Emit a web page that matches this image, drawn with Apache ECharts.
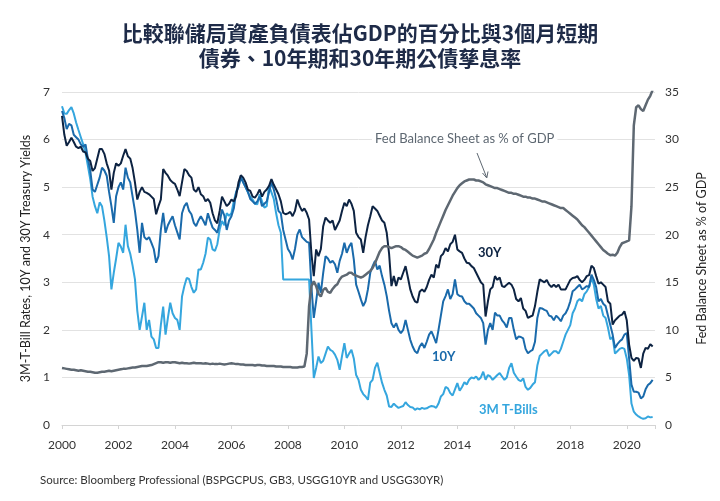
<!DOCTYPE html>
<html><head><meta charset="utf-8">
<script src="https://cdn.jsdelivr.net/npm/echarts@6/dist/echarts.min.js"></script>
<style>html,body{margin:0;padding:0;background:#fff}#c{width:720px;height:501px}</style>
</head><body><div id="c"></div>
<script>
// Monthly observations, Jan 2000 .. Dec 2020 (decimal year positions)
const months = Array.from({length: 252}, (_, i) => 2000 + i / 12);

const xTickLabels = ['2000','2002','2004','2006','2008','2010','2012','2014','2016','2018','2020'];

const titleLines = ['比較聯儲局資產負債表佔GDP的百分比與3個月短期', '債券、10年期和30年期公債孳息率'];

// "3M T-Bills" (left axis, %)
const bills3m = [
6.70,6.55,6.54,6.62,6.68,6.55,6.36,6.20,6.05,5.90,5.72,5.45,
5.17,4.80,4.60,4.45,4.68,4.60,4.30,3.95,3.55,2.85,3.20,3.50,
3.83,3.75,3.62,4.21,3.76,3.60,3.35,3.06,2.40,2.00,2.28,2.57,
2.00,2.21,1.86,1.80,1.62,1.62,2.10,2.49,1.90,2.25,2.57,2.35,
2.25,2.21,2.00,2.70,2.92,3.09,3.07,2.90,2.78,2.85,3.27,3.27,
3.41,3.60,3.94,3.90,3.69,3.66,3.80,4.11,4.29,4.20,4.45,4.40,
4.45,4.70,4.90,5.03,5.24,5.10,5.00,4.89,4.80,4.74,4.65,4.64,
4.85,4.70,4.57,4.60,5.03,4.89,4.75,4.45,4.20,4.04,3.06,3.06,
3.06,3.06,3.06,3.06,3.06,3.06,3.06,3.06,3.06,3.06,2.00,0.99,
1.20,1.44,1.30,1.35,1.50,1.65,1.58,1.55,1.48,1.37,1.16,1.45,
1.72,1.41,1.50,1.58,1.40,1.05,0.95,0.74,0.65,0.60,0.53,0.89,
0.95,1.20,1.31,1.10,0.89,0.74,0.62,0.39,0.38,0.45,0.40,0.36,
0.38,0.40,0.48,0.42,0.38,0.37,0.32,0.35,0.33,0.36,0.34,0.35,
0.38,0.40,0.39,0.36,0.45,0.60,0.65,0.80,0.77,0.67,0.62,0.75,
0.88,0.72,0.80,0.90,0.85,0.95,1.00,0.98,1.02,0.95,1.00,1.12,
0.95,1.05,1.02,0.95,1.00,1.05,1.09,1.02,0.95,1.00,1.20,1.30,
1.10,1.02,0.95,0.92,0.98,0.80,0.74,0.78,0.85,0.90,1.25,1.45,
1.50,1.55,1.58,1.45,1.50,1.55,1.55,1.50,1.60,1.75,1.90,2.00,
2.10,2.35,2.45,2.60,2.65,2.60,2.75,2.81,2.90,3.09,2.95,2.65,
2.45,2.50,2.30,2.25,2.05,1.80,1.85,1.50,1.55,1.60,1.62,1.60,
1.40,1.05,0.45,0.28,0.22,0.18,0.15,0.13,0.14,0.18,0.16,0.17];

// 10Y Treasury yield (left axis, %)
const yield10y = [
6.60,6.45,6.22,6.33,6.30,6.10,6.05,6.00,5.90,5.85,5.90,5.60,
5.35,4.95,4.90,5.05,5.20,5.41,5.35,5.24,4.90,4.60,4.25,4.81,
5.00,5.10,4.95,5.41,5.20,5.10,4.80,4.50,4.10,3.62,4.25,3.95,
3.90,3.95,3.83,3.70,3.41,3.55,4.10,4.46,4.04,4.20,4.30,4.39,
4.20,4.05,3.90,4.45,4.60,4.67,4.50,4.43,4.25,4.18,4.30,4.39,
4.30,4.20,4.45,4.29,4.15,4.10,4.04,4.25,4.53,4.40,4.10,4.30,
4.39,4.55,4.89,5.00,5.20,5.10,5.00,4.90,4.75,4.70,4.65,4.70,
4.80,4.60,4.65,4.70,4.90,5.10,4.95,4.75,4.50,4.45,4.10,3.90,
3.70,3.62,3.48,3.70,4.00,4.11,3.95,3.90,3.85,3.83,2.90,2.25,
2.60,2.99,2.78,3.20,3.55,3.50,3.41,3.45,3.38,3.20,3.45,3.60,
3.83,3.62,3.75,3.83,3.48,2.95,2.80,2.64,2.50,2.60,2.85,3.20,
3.34,3.45,3.27,3.35,3.13,2.95,2.71,2.40,2.14,2.05,2.14,2.00,
1.93,2.00,2.21,2.00,1.79,1.65,1.55,1.51,1.65,1.72,1.62,1.75,
1.90,1.97,1.85,1.72,2.00,2.30,2.60,2.71,2.85,2.65,2.75,3.06,
2.75,2.71,2.70,2.60,2.55,2.55,2.50,2.45,2.35,2.30,2.25,2.14,
1.69,2.00,2.14,2.00,2.36,2.30,2.30,2.20,2.14,2.05,2.25,2.25,
2.00,1.80,1.86,1.85,1.82,1.60,1.51,1.55,1.58,1.75,2.25,2.46,
2.45,2.42,2.40,2.30,2.28,2.20,2.30,2.25,2.18,2.30,2.35,2.45,
2.60,2.81,2.85,2.90,2.95,2.85,2.88,2.92,2.90,3.16,3.05,2.90,
2.60,2.65,2.55,2.50,2.30,2.10,1.90,1.62,1.70,1.76,1.80,1.90,
1.93,1.40,0.85,0.70,0.70,0.68,0.56,0.60,0.75,0.84,0.88,0.95];

// 30Y Treasury yield (left axis, %)
const yield30y = [
6.50,6.10,5.87,5.95,6.04,5.95,5.85,5.82,5.85,5.75,5.73,5.60,
5.55,5.34,5.40,5.60,5.80,5.80,5.70,5.50,5.35,4.95,5.30,5.50,
5.45,5.50,5.66,5.80,5.65,5.60,5.40,5.10,4.74,4.90,5.00,4.90,
4.88,4.85,4.80,4.75,4.43,4.60,4.74,5.38,5.30,5.24,5.15,5.10,
5.07,4.95,4.81,5.10,5.38,5.34,5.25,5.20,4.95,4.90,5.00,4.85,
4.81,4.70,4.75,4.67,4.45,4.30,4.24,4.50,4.80,4.70,4.60,4.65,
4.74,4.70,4.81,5.10,5.25,5.20,5.10,4.95,4.92,4.80,4.78,4.85,
4.95,4.80,4.90,4.95,5.03,5.17,5.05,4.95,4.85,4.70,4.46,4.43,
4.45,4.48,4.39,4.50,4.74,4.60,4.50,4.55,4.46,4.32,3.60,3.13,
3.69,3.55,3.70,4.18,4.36,4.30,4.25,4.30,4.10,4.20,4.30,4.50,
4.67,4.60,4.74,4.65,4.50,4.04,3.95,3.90,3.62,3.95,4.20,4.39,
4.60,4.55,4.50,4.40,4.30,4.25,4.04,3.60,2.92,3.13,2.92,3.10,
3.06,3.20,3.34,3.10,2.85,2.70,2.60,2.57,2.80,2.85,2.80,2.90,
3.05,3.16,3.10,3.37,3.30,3.55,3.60,3.72,3.65,3.80,3.85,4.00,
3.69,3.65,3.62,3.50,3.41,3.40,3.34,3.30,3.20,3.10,3.00,2.95,
2.28,2.60,2.85,2.90,3.13,3.05,3.10,2.92,2.90,2.95,2.99,2.95,
2.85,2.65,2.60,2.67,2.45,2.40,2.25,2.28,2.30,2.50,2.80,3.06,
3.03,3.00,3.05,2.95,2.90,2.95,2.90,2.95,2.85,2.85,2.85,2.95,
3.05,3.09,3.10,3.13,3.05,3.00,3.05,3.13,3.15,3.35,3.30,3.13,
2.97,3.00,2.95,2.90,2.60,2.55,2.11,2.20,2.25,2.30,2.32,2.39,
2.20,1.69,1.41,1.35,1.41,1.40,1.20,1.50,1.62,1.60,1.70,1.65];

// Fed balance sheet as % of GDP (right axis)
const fedBalancePctGdp = [
6.00,5.95,5.90,5.85,5.80,5.80,5.75,5.70,5.75,5.70,5.65,5.60,
5.60,5.55,5.50,5.50,5.55,5.60,5.60,5.65,5.70,5.65,5.70,5.75,
5.80,5.85,5.90,5.90,5.95,6.00,6.05,6.05,6.10,6.15,6.20,6.20,
6.20,6.25,6.30,6.40,6.50,6.60,6.60,6.55,6.60,6.60,6.55,6.60,
6.60,6.55,6.50,6.55,6.50,6.50,6.45,6.50,6.55,6.50,6.50,6.50,
6.45,6.50,6.45,6.40,6.45,6.40,6.40,6.45,6.40,6.35,6.40,6.45,
6.50,6.45,6.40,6.40,6.35,6.35,6.30,6.30,6.30,6.30,6.25,6.30,
6.30,6.25,6.25,6.20,6.20,6.20,6.20,6.15,6.15,6.15,6.10,6.10,
6.10,6.10,6.05,6.05,6.05,6.10,6.10,6.15,7.50,12.50,14.60,15.10,
14.60,13.80,13.50,14.20,14.40,14.00,13.90,14.30,14.60,14.80,15.30,15.60,
15.70,15.80,16.00,16.00,15.80,15.70,15.60,15.50,15.60,15.80,16.00,16.20,
16.50,17.00,17.60,18.20,18.60,18.80,18.80,18.70,18.60,18.70,18.80,18.80,
18.70,18.50,18.40,18.20,18.00,17.80,17.70,17.60,17.70,17.80,18.00,18.10,
18.50,19.00,19.50,20.20,20.80,21.40,22.00,22.60,23.10,23.60,24.10,24.50,
24.90,25.20,25.40,25.60,25.70,25.80,25.80,25.80,25.70,25.70,25.60,25.50,
25.30,25.20,25.10,25.00,24.90,24.90,24.80,24.70,24.60,24.50,24.40,24.40,
24.30,24.30,24.20,24.10,24.00,24.00,23.90,23.90,23.80,23.80,23.70,23.60,
23.50,23.50,23.40,23.30,23.20,23.10,23.00,22.90,22.80,22.80,22.60,22.40,
22.20,22.00,21.80,21.60,21.30,21.00,20.80,20.50,20.20,19.90,19.60,19.30,
19.00,18.70,18.40,18.20,18.00,17.85,17.90,17.80,18.10,18.70,19.10,19.20,
19.30,19.40,23.00,31.50,33.40,33.60,33.20,33.00,33.60,34.20,34.60,35.20];

const pairs = arr => arr.map((v, i) => [months[i], v]);

const C30 = '#0d2342', C10 = '#1a6aab', C3 = '#35a6de', CFED = '#5e6872';
const FONT = 'Lato, "Noto Sans", sans-serif';
const TFONT = 'bold 21px "Noto Sans CJK TC", sans-serif';

const chart = echarts.init(document.getElementById('c'));
chart.setOption({
  animation: false,
  backgroundColor: '#fff',
  grid: {left: 62, right: 65, top: 92, bottom: 76},
  xAxis: {
    type: 'value', min: 2000, max: 2021, interval: 2,
    axisLine: {lineStyle: {color: '#d4d4d4'}},
    axisTick: {show: true, length: 4, lineStyle: {color: '#d4d4d4'}},
    splitLine: {show: false},
    axisLabel: {
      formatter: v => xTickLabels.indexOf(String(v)) >= 0 ? String(v) : '',
      color: '#333', fontSize: 12, margin: 14, fontFamily: FONT
    }
  },
  yAxis: [{
    type: 'value', min: 0, max: 7, interval: 1, position: 'left',
    name: '3M-T-Bill Rates, 10Y and 30Y Treasury Yields',
    nameLocation: 'middle', nameRotate: 90, nameGap: 30,
    nameTextStyle: {color: '#222', fontSize: 12.5, fontFamily: FONT},
    axisLine: {show: false}, axisTick: {show: false},
    splitLine: {lineStyle: {color: '#e2e2e2'}},
    axisLabel: {color: '#333', fontSize: 12, margin: 12, fontFamily: FONT}
  }, {
    type: 'value', min: 0, max: 35, interval: 5, position: 'right',
    name: 'Fed Balance Sheet as % of GDP',
    nameLocation: 'middle', nameRotate: 90, nameGap: 40,
    nameTextStyle: {color: '#222', fontSize: 12.5, fontFamily: FONT},
    axisLine: {show: false}, axisTick: {show: false},
    splitLine: {show: false},
    axisLabel: {color: '#333', fontSize: 12, margin: 10, fontFamily: FONT}
  }],
  series: [
    {name: '3M T-Bills', type: 'line', yAxisIndex: 0, data: pairs(bills3m), showSymbol: false, lineStyle: {color: C3, width: 2}, itemStyle: {color: C3}},
    {name: '10Y', type: 'line', yAxisIndex: 0, data: pairs(yield10y), showSymbol: false, lineStyle: {color: C10, width: 2}, itemStyle: {color: C10}},
    {name: '30Y', type: 'line', yAxisIndex: 0, data: pairs(yield30y), showSymbol: false, lineStyle: {color: C30, width: 2}, itemStyle: {color: C30}},
    {name: 'Fed Balance Sheet as % of GDP', type: 'line', yAxisIndex: 1, data: pairs(fedBalancePctGdp), showSymbol: false, lineStyle: {color: CFED, width: 2.5}, itemStyle: {color: CFED}}
  ],
  graphic: [
    {type: 'text', x: 360, y: 33, style: {text: titleLines[0], fill: '#1e2b48', font: TFONT, textAlign: 'center', textVerticalAlign: 'middle'}},
    {type: 'text', x: 360, y: 58, style: {text: titleLines[1], fill: '#1e2b48', font: TFONT, textAlign: 'center', textVerticalAlign: 'middle'}},
    {type: 'text', left: 372, top: 131, z: 10, style: {text: 'Fed Balance Sheet as % of GDP', fill: CFED, font: '13px ' + FONT, backgroundColor: '#fff', padding: [1, 3, 1, 3]}},
    {type: 'line', z: 10, shape: {x1: 477, y1: 153, x2: 486.5, y2: 177}, style: {stroke: CFED, lineWidth: 1}},
    {type: 'polyline', z: 10, shape: {points: [[482.5, 173], [486.8, 178], [488, 171.5]]}, style: {stroke: CFED, lineWidth: 1, fill: null}},
    {type: 'text', left: 478, top: 246, style: {text: '30Y', fill: C30, font: 'bold 13px ' + FONT}},
    {type: 'text', left: 432, top: 350, style: {text: '10Y', fill: C10, font: 'bold 13px ' + FONT}},
    {type: 'text', left: 479, top: 403, style: {text: '3M T-Bills', fill: C3, font: 'bold 13px ' + FONT}},
    {type: 'text', left: 40, top: 474, style: {text: 'Source: Bloomberg Professional (BSPGCPUS, GB3, USGG10YR and USGG30YR)', fill: '#333', font: '11.5px ' + FONT}}
  ]
});
</script>
</body></html>
